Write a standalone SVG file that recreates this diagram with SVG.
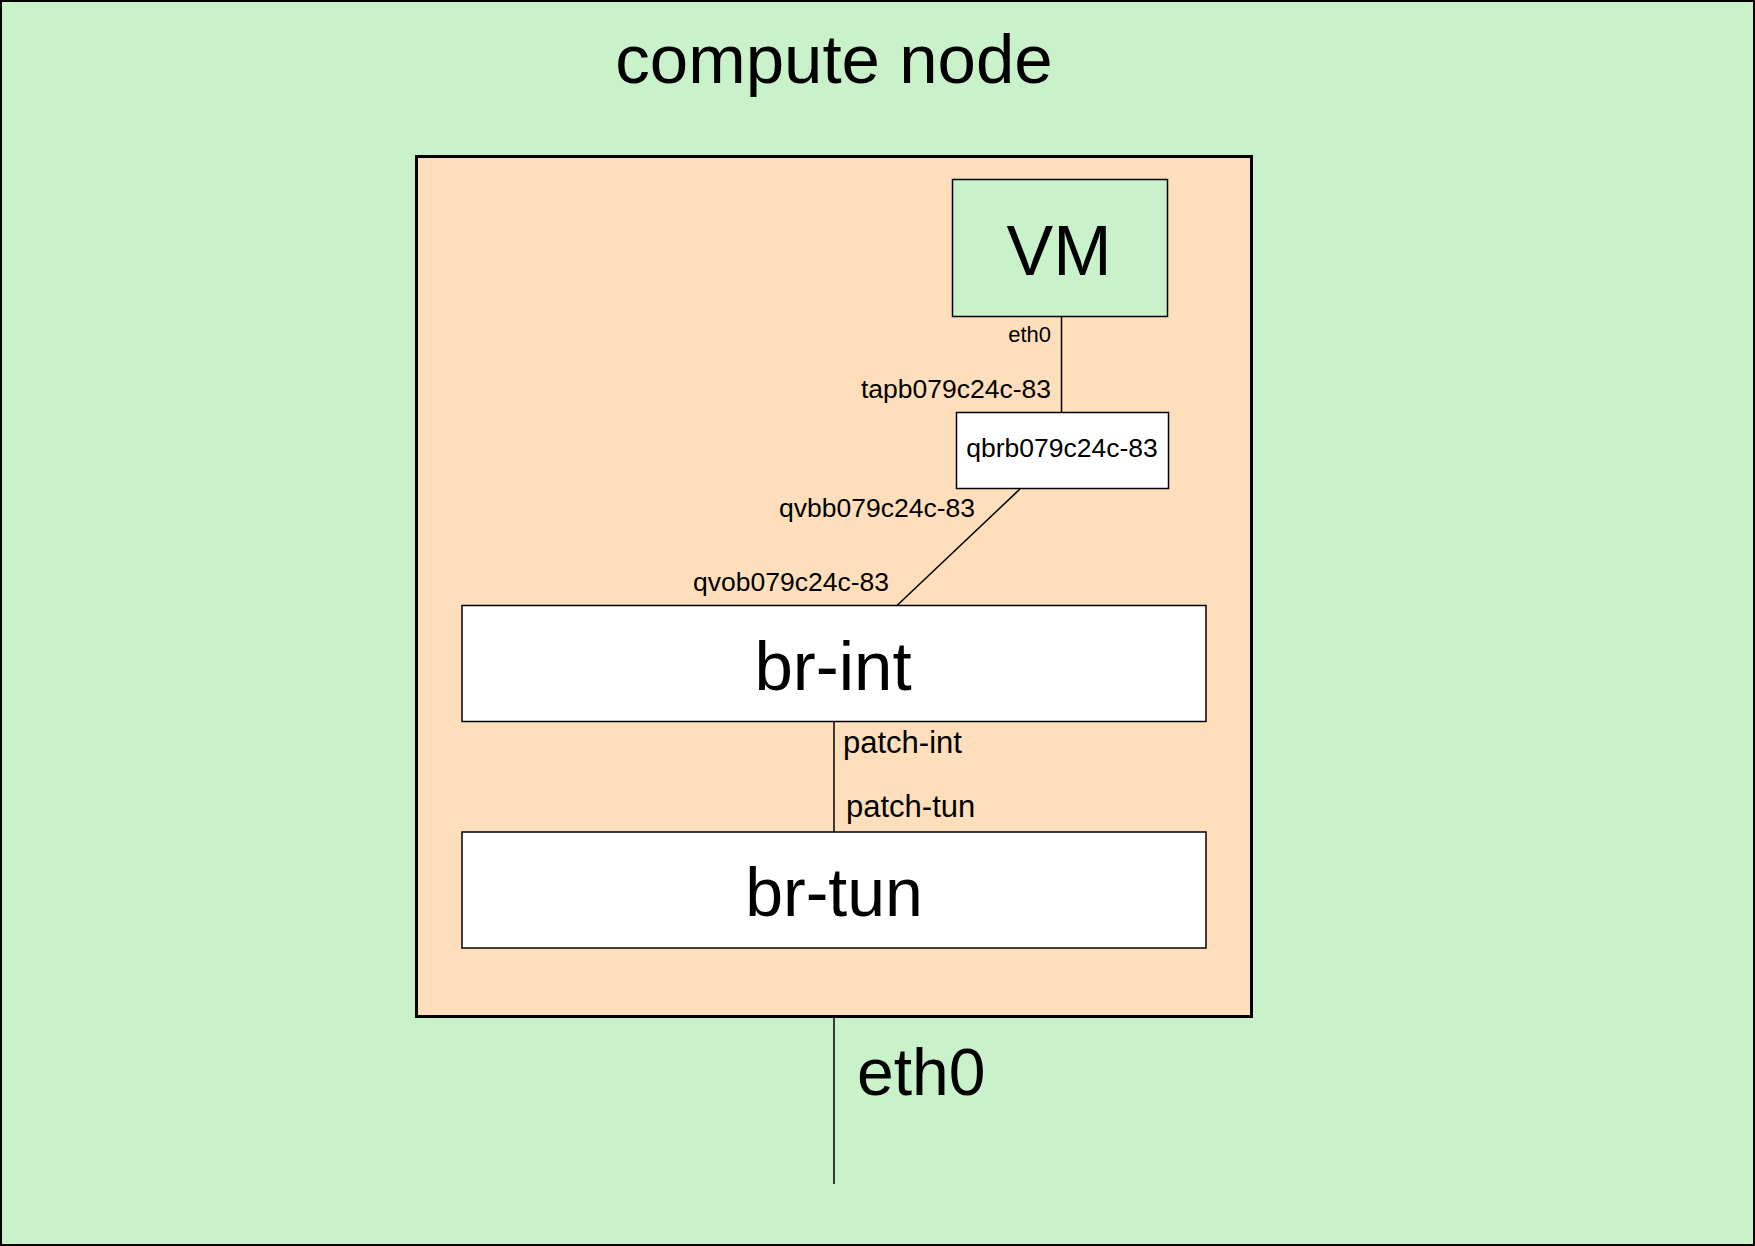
<svg xmlns="http://www.w3.org/2000/svg" width="1755" height="1246" viewBox="0 0 1755 1246">
<style>
text{font-family:"Liberation Sans",Arial,Helvetica,sans-serif;fill:#000}
.box{stroke:#000;stroke-width:1.5}
.wire{stroke:#000;stroke-width:1.5;fill:none}
.big{font-size:70px}
.lbl{font-size:26.5px}
.patch{font-size:31px}
</style>
<g id="compute-node">
<rect x="1" y="1" width="1753" height="1244" fill="#c9f2cb" stroke="#000" stroke-width="2"/>
<text x="834" y="83" font-size="69" text-anchor="middle">compute node</text>
</g>
<g id="host">
<rect x="416.5" y="156.5" width="835" height="860" fill="#ffdfbb" stroke="#000" stroke-width="3"/>
</g>
<g id="connectors">
<line class="wire" x1="1061.5" y1="317" x2="1061.5" y2="412"/>
<line class="wire" x1="1020" y1="489" x2="897" y2="605.5"/>
<line class="wire" x1="834" y1="721.5" x2="834" y2="832"/>
<line class="wire" x1="834" y1="1017" x2="834" y2="1184"/>
<text x="1051" y="342" text-anchor="end" style="font-size:22px">eth0</text>
<text class="lbl" x="1051" y="398" text-anchor="end">tapb079c24c-83</text>
<text class="lbl" x="975" y="517" text-anchor="end">qvbb079c24c-83</text>
<text class="lbl" x="889" y="591" text-anchor="end">qvob079c24c-83</text>
<text class="patch" x="843" y="753">patch-int</text>
<text class="patch" x="846" y="817">patch-tun</text>
<text x="857" y="1095" font-size="66">eth0</text>
</g>
<g id="vm">
<rect class="box" x="952.5" y="179.5" width="215" height="137" fill="#c9f2cb"/>
<text class="big" x="1059" y="275" text-anchor="middle">VM</text>
</g>
<g id="qbr">
<rect class="box" x="956.5" y="412.5" width="212" height="76" fill="#fff"/>
<text class="lbl" x="1062" y="457" text-anchor="middle">qbrb079c24c-83</text>
</g>
<g id="br-int">
<rect class="box" x="462" y="605.5" width="744" height="116" fill="#fff"/>
<text x="833" y="690" font-size="69" text-anchor="middle">br-int</text>
</g>
<g id="br-tun">
<rect class="box" x="462" y="832" width="744" height="116" fill="#fff"/>
<text x="834" y="916" font-size="68" text-anchor="middle">br-tun</text>
</g>
</svg>
